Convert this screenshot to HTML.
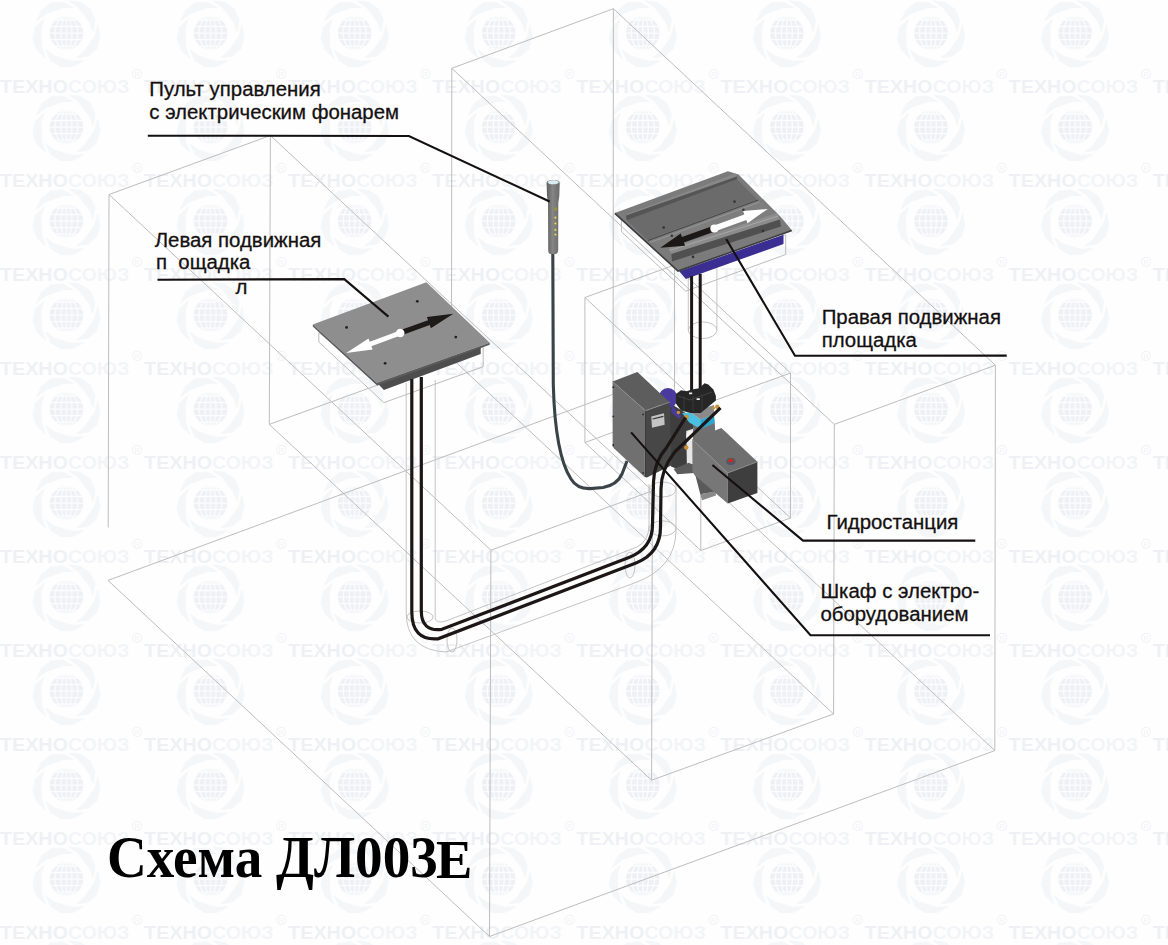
<!DOCTYPE html><html><head><meta charset="utf-8"><style>html,body{margin:0;padding:0;background:#fff;}svg{display:block}</style></head><body>
<svg width="1168" height="945" viewBox="0 0 1168 945">
<rect width="1168" height="945" fill="#fefefe"/>
<defs><clipPath id="gl"><circle cx="66.4" cy="33.1" r="16.8"/></clipPath><pattern id="wm" x="0" y="0" width="144.1" height="94" patternUnits="userSpaceOnUse">
<circle cx="66.4" cy="33.1" r="16.8" fill="#eef0f4"/>
<g clip-path="url(#gl)" fill="none" stroke="#fdfdfe" stroke-width="1.3"><ellipse cx="66.4" cy="33.1" rx="5.5" ry="17"/><ellipse cx="66.4" cy="33.1" rx="11.5" ry="17"/><line x1="66.4" y1="15" x2="66.4" y2="51"/><line x1="48" y1="33.1" x2="85" y2="33.1"/><line x1="48" y1="26.5" x2="85" y2="26.5"/><line x1="48" y1="39.7" x2="85" y2="39.7"/><line x1="48" y1="20" x2="85" y2="20"/><line x1="48" y1="46.2" x2="85" y2="46.2"/></g>
<path d="M68.7,0.8 L80.7,2.6 L90.4,9.2 L94.9,19.9 L92.8,31.4 L89.8,22.3 L84.4,15.2 L78.4,7.4Z M97.9,25.3 L99.9,37.3 L96.7,48.6 L87.9,56.2 L76.3,57.8 L84.0,52.1 L89.1,44.8 L94.7,36.7Z M83.6,60.8 L72.8,66.4 L61.1,66.8 L51.1,60.8 L46.1,50.2 L53.9,55.8 L62.4,58.4 L71.8,61.2Z M45.5,58.1 L36.8,49.6 L32.8,38.5 L35.5,27.2 L43.9,19.2 L41.1,28.3 L41.2,37.2 L41.5,47.0Z M36.3,21.0 L41.7,10.1 L51.0,2.9 L62.6,1.9 L72.8,7.5 L63.3,7.6 L54.8,10.5 L45.6,13.8Z" fill="#f5f6f8" stroke="#f5f6f8" stroke-width="1" stroke-linejoin="round"/>
<text x="0" y="92.5" font-family="Liberation Sans" font-weight="bold" font-size="17.8" textLength="68" lengthAdjust="spacingAndGlyphs" fill="#eef0f4">ТЕХНО</text>
<text x="68" y="92.5" font-family="Liberation Sans" font-weight="bold" font-size="17.8" textLength="61.5" lengthAdjust="spacingAndGlyphs" fill="#f3f4f7">СОЮЗ</text>
<circle cx="137.3" cy="73.8" r="4.6" fill="none" stroke="#f1f2f5" stroke-width="1"/><text x="134.6" y="77" font-family="Liberation Sans" font-size="7.5" fill="#f1f2f5">R</text>
</pattern></defs>
<rect width="1168" height="945" fill="url(#wm)"/>
<g stroke="#bdbdbd" stroke-width="1" fill="none">
<polyline points="109,194.5 270.4,135.5"/>
<polyline points="451.8,68.3 613.4,8.7"/>
<polyline points="109,194.5 490.9,550.2"/>
<polyline points="490.9,550.2 652.4,490.8"/>
<polyline points="834.3,424.4 995.4,365.2"/>
<polyline points="613.4,8.7 995.4,365.2"/>
<polyline points="109,194.5 108.2,527.5"/>
<polyline points="490.9,550.2 489.5,936.5"/>
<polyline points="995.4,365.2 994.8,750.6"/>
<polyline points="613.4,8.7 613.1,394.3"/>
<polyline points="108,580.4 489.5,936.5"/>
<polyline points="489.5,936.5 994.8,750.6"/>
<polyline points="994.8,750.6 613.1,394.3"/>
<polyline points="613.1,394.3 108,580.4"/>
<polyline points="270.4,135.5 652.4,490.8"/>
<polyline points="451.8,68.3 834.3,424.4"/>
<polyline points="270.4,135.5 269.3,424.4"/>
<polyline points="451.8,68.3 451.5,358.2"/>
<polyline points="652.4,490.8 651.6,780.2"/>
<polyline points="834.3,424.4 833.6,714"/>
<polyline points="269.3,424.4 651.6,780.2"/>
<polyline points="451.5,358.2 833.6,714"/>
<polyline points="269.3,424.4 451.5,358.2"/>
<polyline points="651.6,780.2 833.6,714"/>
<polyline points="584.9,297.5 674.5,265 790.5,373 700.8,405.5 584.9,297.5"/>
<polyline points="584.9,442.5 674.5,410 790.5,518 700.8,550.5 584.9,442.5"/>
<polyline points="584.9,297.5 584.9,442.5"/>
<polyline points="674.5,265 674.5,410"/>
<polyline points="790.5,373 790.5,518"/>
<polyline points="700.8,405.5 700.8,550.5"/>
</g>
<g>
<polygon points="318.8,332.5 383.9,385 483.2,347 483.2,366.7 383.9,402.7 318.8,342" fill="none" stroke="#bdbdbd" stroke-width="1"/>
<polygon points="377.1,383 383.9,389.9 480.7,353.9 480.7,346.2" fill="#4d4d4d"/>
<polygon points="312.8,324.5 426.4,282.3 489.7,342.8 377.1,383" fill="#8e8e8e"/>
<polygon points="312.8,324.5 377.1,383 489.7,342.8 489.7,344.8 377.1,385.5 312.8,326.5" fill="#5a5a5a"/>
<circle cx="417.3" cy="301.3" r="1.4" fill="#222"/>
<circle cx="346.6" cy="327.4" r="1.4" fill="#222"/>
<circle cx="455.8" cy="337.1" r="1.4" fill="#222"/>
<circle cx="385.1" cy="363.3" r="1.4" fill="#222"/>
<polygon points="399.3,330.6 428,320.2 426.9,317 453.3,313.7 430.9,328.2 429.8,325 401.1,335.4" fill="#1e1a1a"/>
<polygon points="399.4,330.8 369.8,341.8 368.5,338.4 346.2,353 372.7,349.6 371.4,346.2 401,335.2" fill="#fff"/>
<circle cx="400.2" cy="333" r="4.3" fill="#fff"/>
</g>
<g fill="none" stroke="#bdbdbd" stroke-width="0.9">
<path d="M406.2,383 L406.2,612 Q406,650 446,652 L634.5,583"/>
<path d="M435.2,380 L435.2,618 Q436,624 446,621 L637,547"/>
<ellipse cx="420" cy="617" rx="13" ry="6"/>
<ellipse cx="452" cy="640" rx="5" ry="12"/>
<ellipse cx="630" cy="565" rx="5" ry="13"/>
<path d="M634.5,583 Q676,568 676,530 L676,484"/>
<path d="M637,547 Q649,541 649,525 L649,484"/>
<ellipse cx="662.5" cy="528.4" rx="13.5" ry="7.5"/>
<ellipse cx="662.5" cy="489.5" rx="13.5" ry="7.5"/>
<path d="M688.3,276 L688.3,330 M716.9,266 L716.9,330"/>
<ellipse cx="702.6" cy="330.2" rx="14.3" ry="8.3"/>
</g>
<polygon points="621.4,218.7 621.4,231.7 685.6,291.1 785.7,254.5 785.7,235" fill="none" stroke="#bdbdbd" stroke-width="1"/>
<polygon points="679.2,271.3 783.5,234.8 783.5,244 685.8,278.9" fill="#3b2e92"/>
<polygon points="614.9,213 727.9,171.2 738.5,174.4 780.8,217.1 791.8,230.2 678,270.9" fill="#7b7b7b"/>
<polyline points="614.9,213.3 678,271 791.8,230.4" fill="none" stroke="#3c3c3c" stroke-width="1.6"/>
<polygon points="626.7,220.3 737,179.2 757.5,199.7 647.9,240.8" fill="#6b6b6b"/>
<polygon points="626,214.5 735.6,173.4 737,176.2 627.4,216.4" fill="#888888"/>
<polygon points="626,215.5 737,176.4 737,179.2 626.7,220.3" fill="#555555"/>
<polygon points="647.4,239.8 757.2,199.2 777,213 668.6,248" fill="#7e7e7e"/>
<polyline points="648,240.5 758,200" fill="none" stroke="#474747" stroke-width="1.2"/>
<polyline points="650,242.5 759.5,202.2" fill="none" stroke="#9a9a9a" stroke-width="0.8"/>
<polygon points="668.6,248 777,213 779.9,219.5 671.4,254" fill="#8c8c8c"/>
<polygon points="671.4,254 779.9,219.5 781,226.5 672,261.4" fill="#505050"/>
<polyline points="669.5,250.5 778,216" fill="none" stroke="#a8a8a8" stroke-width="1"/>
<circle cx="663.7" cy="227.6" r="1.3" fill="#333"/>
<circle cx="734.5" cy="201.6" r="1.3" fill="#333"/>
<circle cx="671.8" cy="235.8" r="1.3" fill="#333"/>
<circle cx="743.4" cy="209.7" r="1.3" fill="#333"/>
<circle cx="762.9" cy="230.9" r="1.3" fill="#333"/>
<circle cx="693" cy="256.9" r="1.3" fill="#333"/>
<polygon points="713.4,225.7 681.9,236.9 680.7,233.6 660.3,247.7 685.1,245.8 683.9,242.5 715.4,231.3" fill="#1c1818"/>
<polygon points="713.4,225.7 744.3,214.4 743.1,211.1 767.8,208.9 747.5,223.3 746.3,220 715.4,231.3" fill="#ffffff"/>
<circle cx="714.4" cy="228.5" r="4.1" fill="#fff"/>
<g fill="none" stroke="#1c1616" stroke-width="3"><line x1="691.6" y1="276" x2="691.6" y2="392"/><line x1="700.2" y1="274" x2="700.2" y2="392"/></g>
<path d="M552.8,254 L553.3,385 C554.5,430 560,462 571,479 Q577,489 590,488.6 L603,487.5 Q617,485 622,474 L627,461" fill="none" stroke="#3a4448" stroke-width="3.1"/>
<defs><linearGradient id="fl" x1="0" y1="0" x2="1" y2="0"><stop offset="0" stop-color="#5e5e5e"/><stop offset="0.45" stop-color="#858585"/><stop offset="1" stop-color="#6a6a6a"/></linearGradient></defs>
<path d="M546.6,183 Q546.4,181 549,180.5 L557.5,180.5 Q559.8,181 559.7,183 L559.3,196 L558.3,203 L558.2,250 Q558,253.5 556,254 L550,254 Q548.3,253.5 548.2,250 L548,203 L547,196 Z" fill="url(#fl)"/>
<ellipse cx="553.2" cy="182.3" rx="5.6" ry="1.9" fill="#d8eef2"/>
<rect x="554.3" y="207.5" width="2.6" height="3.2" fill="#9c9430"/>
<circle cx="555.4" cy="217.7" r="1.4" fill="#b9a83a"/><circle cx="555.4" cy="217.7" r="0.6" fill="#e8e8d0"/>
<circle cx="555.4" cy="223.5" r="1.4" fill="#b9a83a"/><circle cx="555.4" cy="223.5" r="0.6" fill="#e8e8d0"/>
<circle cx="555.4" cy="229.9" r="1.4" fill="#b9a83a"/><circle cx="555.4" cy="229.9" r="0.6" fill="#e8e8d0"/>
<circle cx="555.4" cy="234.6" r="1.4" fill="#b9a83a"/><circle cx="555.4" cy="234.6" r="0.6" fill="#e8e8d0"/>
<polygon points="669.1,403.1 676.1,406.9 693.9,418.3 696.4,431 693.9,465.3 681.2,470.4 671,466.6" fill="#3e3e3e"/>
<polygon points="692.6,420.9 714.2,419.6 714.8,431 693.9,436.1" fill="#6c6c6c"/>
<polygon points="686.2,431 693.9,428.5 693.9,464 686.9,465.3" fill="#e6e6e6"/>
<ellipse cx="690.3" cy="436.1" rx="4" ry="5" fill="#f4f4f4"/>
<polygon points="673.6,469.1 688.8,462.8 693.9,465.3 693.9,472.9 677.4,474.2" fill="#5c5c5c"/>
<ellipse cx="668" cy="398" rx="9.5" ry="10" fill="#4b3a9e"/><polygon points="672,405 681,416 679,419 671,412" fill="#4b3a9e"/>
<polygon points="682.2,413.1 690.5,412.5 700.7,419.5 714,414.4 714.6,423.3 700.7,429 689.2,422.6" fill="#4cc0e0"/>
<polygon points="700.7,419.5 714,414.4 714.6,423.3 700.7,429" fill="#2ea6cc"/>
<polygon points="690.5,412.5 714,405 714,414.4 700.7,419.5" fill="#8a8a8a"/>
<polygon points="693,429 700.7,429 714.6,423.3 715.3,433 700,440 693,440" fill="#707070"/>
<polygon points="675.9,394.1 681,390.2 686.7,391.2 691.8,389.6 699.4,388.3 704.5,383.3 708.3,384.5 713.4,389.6 715.9,396 715.9,400.4 708.3,406.8 700.7,413.1 690.5,413.1 681,410.6 675.9,403.6" fill="#262626"/>
<polyline points="678,396 690,400 712,392" fill="none" stroke="#444" stroke-width="0.9"/>
<line x1="684" y1="396" x2="684" y2="411" stroke="#3c3c3c" stroke-width="0.8"/>
<line x1="693" y1="396" x2="693" y2="411" stroke="#3c3c3c" stroke-width="0.8"/>
<line x1="702" y1="394" x2="702" y2="411" stroke="#3c3c3c" stroke-width="0.8"/>
<rect x="689" y="392.5" width="3.2" height="1.7" fill="#f0f0f0"/><rect x="696.6" y="398.3" width="3.2" height="1.7" fill="#f0f0f0"/>
<circle cx="686.7" cy="417" r="2.2" fill="#c8913a"/>
<circle cx="717.2" cy="406.8" r="2.2" fill="#c8913a"/>
<circle cx="713.5" cy="408" r="1.6" fill="#c8913a"/>
<circle cx="678.4" cy="412.5" r="1.7" fill="#c8913a"/>
<circle cx="686.3" cy="447.5" r="2.2" fill="#c8913a"/>
<polygon points="612.6,381.5 637.4,372 669.1,401.8 645.6,410.7" fill="#5d5d5d"/>
<polygon points="612.6,381.5 645.6,410.7 644.4,476.7 613.9,448.2 612.6,446.2" fill="#707070"/>
<polygon points="645.6,410.7 669.7,402.1 671.6,465.3 646.9,477.4 644.4,476.7" fill="#474747"/>
<polyline points="612.6,381.8 645.6,410.7 669.7,402.1" fill="none" stroke="#8a8a8a" stroke-width="1"/>
<polyline points="645.6,410.7 645.4,476.7" fill="none" stroke="#3a3a3a" stroke-width="1"/>
<polygon points="651.3,416.4 664,413.2 664.7,424.7 652,427.8" fill="#c4c4c4"/>
<polyline points="652.6,419 663.4,416.4" fill="none" stroke="#333" stroke-width="1.2"/>
<circle cx="613.3" cy="387.2" r="0.9" fill="#2a2a2a"/>
<circle cx="613.3" cy="416.4" r="0.9" fill="#2a2a2a"/>
<circle cx="613.3" cy="445" r="0.9" fill="#2a2a2a"/>
<circle cx="643.1" cy="414.5" r="0.9" fill="#2a2a2a"/>
<circle cx="643.1" cy="472.9" r="0.9" fill="#2a2a2a"/>
<g fill="none" stroke="#1c1616" stroke-width="3.2" stroke-linecap="butt">
<path d="M411.8,379 L411.8,612 Q411.8,641 438,638.8 L636.6,562.7 Q660.5,553 660.5,527 L661,489 Q661,470 674.4,452.4 L720.5,407.9"/>
<path d="M421.3,377 L421.3,611 Q421.3,632 442,629.3 L628.9,557.6 Q652.5,548 652.5,525 L653.5,482 Q654,462 666.5,447.6 L685.6,417.5"/>
</g>
<polygon points="694.5,472 700.3,494.3 715.5,491.8 728.2,503.6" fill="#5a5a5a"/>
<polygon points="700.3,494.3 715.5,491.3 716,495.5 702,500.2" fill="#8a8a8a"/>
<polygon points="692.3,439.6 721.4,427.9 757.4,461.8 727.7,472.9" fill="#6f6f6f"/>
<polygon points="692.3,439.6 727.7,472.9 727.7,503.6 695.2,475.7 692.5,472" fill="#777777"/>
<polygon points="727.7,472.9 757.4,461.8 757.4,493 727.7,503.6" fill="#3e3e3e"/>
<polyline points="692.3,439.6 727.7,472.9 757.4,461.8" fill="none" stroke="#8e8e8e" stroke-width="0.8"/>
<ellipse cx="730.9" cy="461.6" rx="4.6" ry="3.4" fill="#505078"/><ellipse cx="730.9" cy="460.8" rx="4.3" ry="3" fill="#5a5a5a"/><ellipse cx="730.9" cy="460.6" rx="2.2" ry="1.5" fill="#f01818"/>
<g fill="none" stroke="#141010" stroke-width="2.1" stroke-linejoin="miter">
<polyline points="147.8,135.7 408.9,136 549.6,201.5"/>
<polyline points="157.5,279.7 344.3,279.1 388.4,316.6"/>
<polyline points="1006.7,355.6 795,355.8 726.2,239"/>
<polyline points="975.3,540.6 803,540.6 712.4,465"/>
<polyline points="990,635.3 810.5,635.3 631.1,432.4"/>
</g>
<text transform="translate(149.3,96) scale(0.971,1)" font-family="Liberation Sans" font-size="21.0" fill="#141010" stroke="#141010" stroke-width="0.3">Пульт управления</text>
<text transform="translate(149.3,118.8) scale(0.971,1)" font-family="Liberation Sans" font-size="21.0" fill="#141010" stroke="#141010" stroke-width="0.3">с электрическим фонарем</text>
<text transform="translate(154.7,246.6) scale(0.971,1)" font-family="Liberation Sans" font-size="21.0" fill="#141010" stroke="#141010" stroke-width="0.3">Левая подвижная</text>
<text transform="translate(156,268.8) scale(0.971,1)" font-family="Liberation Sans" font-size="21.0" fill="#141010" stroke="#141010" stroke-width="0.3">п&#160;&#160;ощадка</text>
<text transform="translate(235.5,293.8) scale(0.971,1)" font-family="Liberation Sans" font-size="21.0" fill="#141010" stroke="#141010" stroke-width="0.3">л</text>
<text transform="translate(821.7,324.3) scale(0.971,1)" font-family="Liberation Sans" font-size="21.0" fill="#141010" stroke="#141010" stroke-width="0.3">Правая подвижная</text>
<text transform="translate(821.7,346.9) scale(0.971,1)" font-family="Liberation Sans" font-size="21.0" fill="#141010" stroke="#141010" stroke-width="0.3">площадка</text>
<text transform="translate(826.5,529.3) scale(0.971,1)" font-family="Liberation Sans" font-size="21.0" fill="#141010" stroke="#141010" stroke-width="0.3">Гидростанция</text>
<text transform="translate(820.4,598.4) scale(0.971,1)" font-family="Liberation Sans" font-size="21.0" fill="#141010" stroke="#141010" stroke-width="0.3">Шкаф с электро-</text>
<text transform="translate(820.4,620.6) scale(0.971,1)" font-family="Liberation Sans" font-size="21.0" fill="#141010" stroke="#141010" stroke-width="0.3">оборудованием</text>
<g transform="translate(107,877) scale(0.985,1.06)"><text x="0" y="0" font-family="Liberation Serif" font-weight="bold" font-size="56" fill="#000">Схема ДЛ003</text></g>
<text x="436" y="877.5" font-family="Liberation Serif" font-weight="bold" font-size="54.5" fill="#000">Е</text>
</svg></body></html>
